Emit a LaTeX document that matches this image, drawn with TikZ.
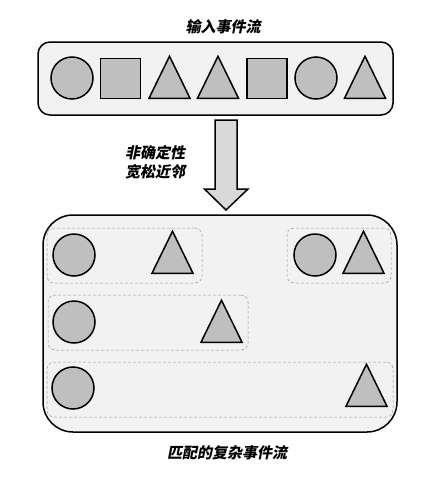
\documentclass[tikz,border=0pt]{standalone}
\usepackage{fontspec}
\newfontfamily\cjk[FakeSlant=0.2]{Noto Sans CJK SC}
\usepackage{xcolor}
\usetikzlibrary{shapes.geometric, positioning}

\definecolor{shapegray}{HTML}{BFBFBF}
\definecolor{boxgray}{HTML}{F2F2F2}
\definecolor{arrowgray}{HTML}{D9D9D9}

\begin{document}
\begin{tikzpicture}[
    x=1pt, y=1pt,
    streambox/.style={rectangle, draw, line width=1.5pt, fill=boxgray, rounded corners=#1},
    matchbox/.style={rectangle, draw=gray!80, densely dashed, line width=0.5pt, rounded corners=7pt},
    ev/.style={draw, line width=1.5pt, fill=shapegray, inner sep=0pt},
    evcirc/.style={ev, circle, minimum size=42pt},
    evsq/.style={ev, rectangle, minimum size=40pt},
    evtri/.style={ev, isosceles triangle, shape border rotate=90, isosceles triangle stretches,
                  minimum width=41pt, minimum height=42pt, anchor=south},
    label/.style={font=\cjk\bfseries\fontsize{15}{19}\selectfont, align=center}
]
\useasboundingbox (0,0) rectangle (428,-477);

% input stream
\node[label] (intitle) at (223,-27) {输入事件流};
\node[streambox=12pt, minimum width=355pt, minimum height=73pt] (instream) at (215.5,-78.5) {};
\node[evcirc] (in1) at (72,-78) {};
\node[evsq]   (in2) at (120.5,-78.5) {};
\node[evtri]  (in3) at (169.5,-99) {};
\node[evtri]  (in4) at (218,-99) {};
\node[evsq]   (in5) at (267,-78.5) {};
\node[evcirc] (in6) at (316,-78) {};
\node[evtri]  (in7) at (365,-99) {};

% block arrow
\coordinate (arrtop) at (226,-120);
\coordinate (arrtip) at (226,-210);
\draw[line width=1.5pt, fill=arrowgray]
    (arrtop) ++(-11,0) -- ++(22,0) -- ++(0,-69) -- ++(11,0) -- (arrtip)
    -- ++(-21.5,21) -- ++(10.5,0) -- cycle;
\node[label] (rule) at (155,-162) {非确定性\\宽松近邻};

% matched complex events
\node[streambox=30pt, minimum width=354pt, minimum height=217pt] (outstream) at (220,-323.5) {};

\node[matchbox, minimum width=155pt, minimum height=55pt] (m1) at (124.5,-255.5) {};
\node[evcirc] (m1a) at (74,-255) {};
\node[evtri]  (m1b) at (172.5,-274) {};

\node[matchbox, minimum width=104pt, minimum height=55pt] (m2) at (339,-255.5) {};
\node[evcirc] (m2a) at (315,-255) {};
\node[evtri]  (m2b) at (363.5,-274) {};

\node[matchbox, minimum width=200pt, minimum height=55pt] (m3) at (148,-322.5) {};
\node[evcirc] (m3a) at (74,-322) {};
\node[evtri]  (m3b) at (221.5,-343) {};

\node[matchbox, minimum width=346pt, minimum height=55pt] (m4) at (220,-389.5) {};
\node[evcirc] (m4a) at (73,-388) {};
\node[evtri]  (m4b) at (366.5,-407) {};

\node[label] (outtitle) at (227,-453) {匹配的复杂事件流};

\end{tikzpicture}
\end{document}
